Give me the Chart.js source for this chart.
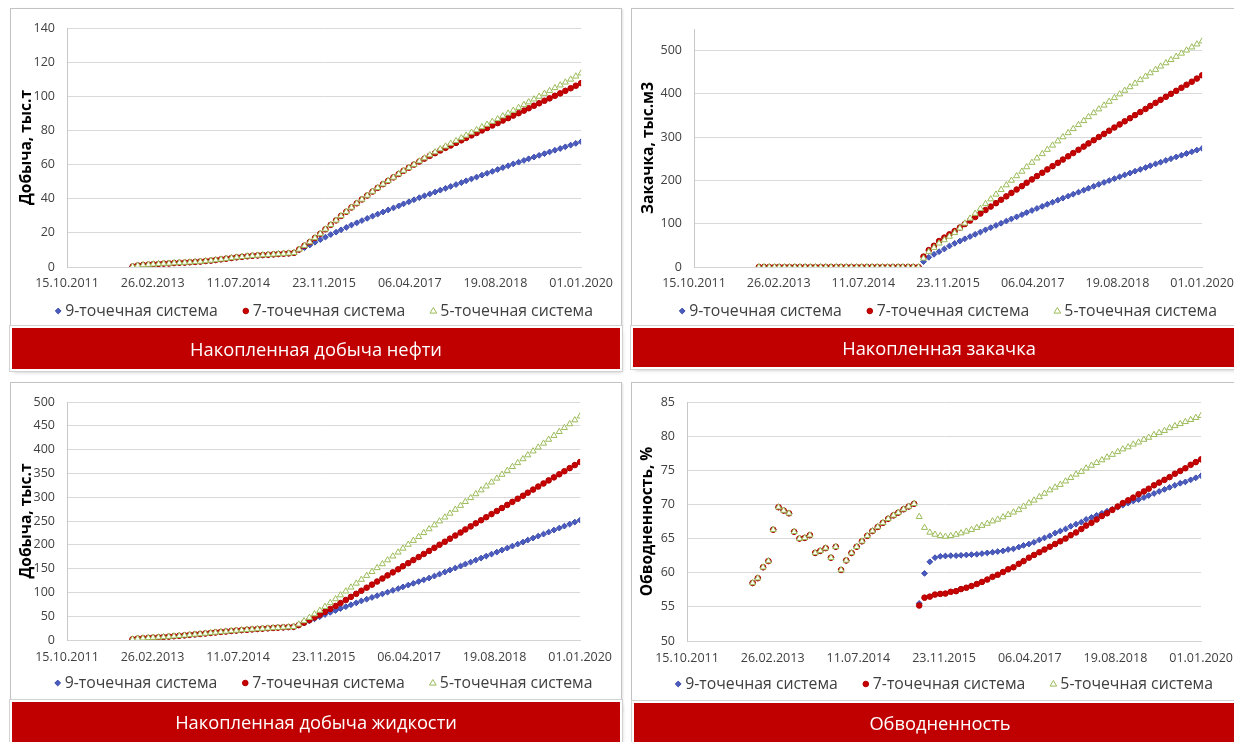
<!DOCTYPE html>
<html lang="ru">
<head>
<meta charset="utf-8">
<title>Сравнение систем разработки</title>
<script src="https://cdn.jsdelivr.net/npm/chart.js@4.4.1/dist/chart.umd.min.js"></script>
<style>
  html, body { margin: 0; padding: 0; background: #fff; width: 1234px; height: 742px; overflow: hidden; font-family: "Open Sans", sans-serif; }
  .panel { position: absolute; box-sizing: border-box; border: 1px solid #c3c3c3; background: #fff; box-shadow: 1px 1px 2px rgba(0,0,0,0.12); }
  canvas { position: absolute; }
  .banner { position: absolute; box-sizing: border-box; background: #C00000; color: #fff; font-size: 18.3px;
            display: flex; align-items: center; justify-content: center; z-index: 5;
            box-shadow: 0 0 0 2px #fff, 0 0 0 3px #d2d2d2, 2px 3px 4px rgba(0,0,0,0.25); }
</style>
</head>
<body>
<div class="panel" style="left:10px;top:8px;width:612px;height:320px"></div>
<div class="panel" style="left:631px;top:8px;width:620px;height:320px"></div>
<div class="panel" style="left:10px;top:382px;width:612px;height:330px"></div>
<div class="panel" style="left:631px;top:382px;width:620px;height:330px"></div>

<canvas id="cOil"   width="612" height="326" style="left:10px;top:8px"></canvas>
<canvas id="cInj"   width="612" height="326" style="left:631px;top:8px"></canvas>
<canvas id="cLiq"   width="612" height="320" style="left:10px;top:382px"></canvas>
<canvas id="cWater" width="612" height="320" style="left:631px;top:382px"></canvas>

<div class="banner" style="left:12px;top:328px;width:608px;height:41px">Накопленная добыча нефти</div>
<div class="banner" style="left:633px;top:328px;width:612px;height:39px">Накопленная закачка</div>
<div class="banner" style="left:12px;top:702px;width:608px;height:45px;padding-bottom:6px">Накопленная добыча жидкости</div>
<div class="banner" style="left:634px;top:703px;width:612px;height:45px;padding-bottom:6px">Обводненность</div>

<script>
// Monthly report dates: history Nov 2012 – Jun 2015, forecast Jul 2015 – Jan 2020
const months = [
  '2012-11','2012-12',
  '2013-01','2013-02','2013-03','2013-04','2013-05','2013-06','2013-07','2013-08','2013-09','2013-10','2013-11','2013-12',
  '2014-01','2014-02','2014-03','2014-04','2014-05','2014-06','2014-07','2014-08','2014-09','2014-10','2014-11','2014-12',
  '2015-01','2015-02','2015-03','2015-04','2015-05','2015-06','2015-07','2015-08','2015-09','2015-10','2015-11','2015-12',
  '2016-01','2016-02','2016-03','2016-04','2016-05','2016-06','2016-07','2016-08','2016-09','2016-10','2016-11','2016-12',
  '2017-01','2017-02','2017-03','2017-04','2017-05','2017-06','2017-07','2017-08','2017-09','2017-10','2017-11','2017-12',
  '2018-01','2018-02','2018-03','2018-04','2018-05','2018-06','2018-07','2018-08','2018-09','2018-10','2018-11','2018-12',
  '2019-01','2019-02','2019-03','2019-04','2019-05','2019-06','2019-07','2019-08','2019-09','2019-10','2019-11','2019-12',
  '2020-01'
];

const seriesNames = ['9-точечная система', '7-точечная система', '5-точечная система'];

// Axis: day offsets from 15.10.2011, ticks every 500 days
const axisStart = '2011-10-15';
const axisSpanDays = 3000;
const axisStepDays = 500;

// ---- Накопленная добыча нефти, тыс.т ----
const oilHistory = [0.3,0.9,1.2,1.4,1.6,1.8,2.0,2.1,2.3,2.5,2.6,2.8,3.0,3.2,3.5,3.8,4.1,4.5,4.9,5.3,5.7,6.0,6.3,6.6,6.8,7.0,7.2,7.4,7.6,7.8,8.0,8.3];
const oil9 = [10.0,11.3,12.9,14.5,16.0,17.5,19.0,20.4,21.8,23.2,24.6,25.9,27.2,28.5,29.8,31.0,32.2,33.4,34.6,35.8,37.0,38.2,39.4,40.6,41.7,42.8,43.9,45.0,46.1,47.2,48.3,49.4,50.5,51.6,52.7,53.8,54.9,56.0,57.1,58.2,59.3,60.4,61.4,62.4,63.4,64.4,65.4,66.4,67.4,68.4,69.4,70.4,71.4,72.4,73.4];
const oil7 = [10.3,12.5,14.6,17.0,19.5,22.1,24.7,27.3,29.9,32.4,34.9,37.3,39.6,41.9,44.2,46.4,48.5,50.5,52.5,54.5,56.4,58.2,60.0,61.8,63.5,65.1,66.7,68.3,69.8,71.2,72.7,74.2,75.6,77.1,78.5,80.0,81.4,82.9,84.3,85.8,87.2,88.7,90.1,91.6,93.0,94.5,95.9,97.4,98.8,100.3,101.7,103.2,104.7,106.2,107.7];
const oil5 = [10.3,12.5,14.6,17.0,19.5,22.1,24.7,27.3,29.9,32.4,34.9,37.3,39.6,41.9,44.2,46.4,48.5,50.5,52.5,54.5,56.4,58.2,60.0,62.0,63.8,65.6,67.3,69.1,70.7,72.3,73.9,75.6,77.1,78.8,80.3,82.0,83.5,85.2,86.7,88.4,90.0,91.7,93.3,95.0,96.6,98.3,99.9,101.6,103.2,104.9,106.5,108.2,109.9,111.7,113.5];
const oilTicks = { min: 0, max: 140, step: 20 };

// ---- Накопленная закачка, тыс.м3 ----
const injHistory = [0,0,0,0,0,0,0,0,0,0,0,0,0,0,0,0,0,0,0,0,0,0,0,0,0,0,0,0,0,0,0,0];
const inj9 = [12.3,22.4,29.3,35.4,41.6,48.5,54.7,60.0,65.2,70.4,75.6,80.8,85.9,91.0,96.1,101.1,106.1,111.1,116.0,120.9,125.8,130.6,135.4,140.2,145.0,149.7,154.4,159.1,163.7,168.3,172.9,177.5,182.0,186.5,191.0,195.4,199.8,204.2,208.5,212.8,217.1,221.4,225.6,229.8,234.0,238.1,242.2,246.3,250.3,254.3,258.3,262.3,266.2,270.1,274.0];
const inj7 = [24,39,49,60,68,75.5,83,91.2,99.3,107.4,115.5,123.6,131.6,139.6,147.5,155.4,163.3,171.2,179.1,186.9,194.7,202.4,210.1,217.8,225.5,233.1,240.7,248.3,255.8,263.3,270.8,278.2,285.6,293.0,300.4,307.7,315.0,322.3,329.5,336.7,343.9,351.0,358.1,365.2,372.3,379.3,386.3,393.3,400.2,407.1,414.2,421.2,428.2,435.4,443.0];
const inj5 = [20,35,44.7,54.7,62.4,70.5,79.0,89.4,100.9,112.3,123.6,134.8,145.9,156.9,167.8,178.6,189.3,199.9,210.4,220.8,231.1,241.3,251.4,261.4,271.3,281.1,290.8,300.4,309.9,319.3,328.6,337.8,346.9,355.9,364.8,373.6,382.3,390.9,399.4,407.8,416.1,424.3,432.4,440.4,448.3,456.1,463.8,471.4,478.9,486.3,493.6,500.8,507.9,514.9,521.8];
const injTicks = { min: 0, max: 550, step: 100 };

// ---- Накопленная добыча жидкости, тыс.т ----
const liqHistory = [1.5,3.0,3.8,4.5,5.1,5.7,6.3,7.2,8.0,8.8,9.8,10.8,11.8,12.6,13.8,14.9,16.0,17.0,18.0,19.0,20.0,20.8,21.6,22.4,23.2,23.9,24.6,25.3,26.0,26.6,27.2,27.8];
const liq9 = [31.0,35.5,40.0,44.5,49.0,53.5,58.0,62.0,66.0,70.0,74.0,78.0,82.0,85.7,89.4,93.1,96.8,100.5,104.2,107.9,111.6,115.3,119.0,122.7,126.4,130.1,134.3,138.5,142.7,146.9,151.1,155.3,159.5,163.7,167.9,172.1,176.3,180.5,184.7,188.9,193.1,197.3,201.5,205.7,209.9,214.1,218.3,222.5,226.7,230.9,235.1,239.3,243.5,247.7,251.9];
const liq7 = [31.5,36.5,41.8,47.4,53.2,59.1,65.2,71.4,77.7,84.1,90.6,97.0,103.5,109.9,116.3,122.8,129.2,135.7,142.1,148.5,155.0,161.4,167.9,174.3,180.7,187.2,193.6,200.1,206.5,212.9,219.4,225.8,232.3,238.7,245.1,251.6,258.0,264.5,270.9,277.3,283.8,290.2,296.7,303.1,309.5,316.0,322.4,328.9,335.3,341.7,348.2,354.6,361.1,367.5,373.9];
const liq5 = [33,40,47,54.5,62,70,78,86.2,94.3,102.5,110.7,118.9,127.0,135.2,143.4,151.5,159.7,167.9,176.0,184.2,192.4,200.6,208.7,216.9,225.1,233.2,241.4,249.6,257.8,265.9,274.1,282.3,290.4,298.6,306.8,314.9,323.1,331.3,339.5,347.6,355.8,364.0,372.1,380.3,388.5,396.7,404.8,413.0,421.2,429.3,437.5,445.7,453.8,462.0,470.2];
const liqTicks = { min: 0, max: 500, step: 50 };

// ---- Обводненность, % ----
const waterHistory = [58.5,59.2,60.8,61.7,66.3,69.6,69.1,68.7,66.0,65.0,65.1,65.5,62.9,63.2,63.6,62.2,63.8,60.4,61.8,62.9,63.8,64.6,65.4,66.1,66.7,67.3,67.9,68.4,68.8,69.3,69.7,70.1];
const water9 = [55.5,59.9,61.6,62.2,62.4,62.45,62.5,62.5,62.55,62.6,62.65,62.7,62.8,62.9,63.0,63.1,63.2,63.4,63.5,63.75,64.0,64.2,64.45,64.8,65.1,65.4,65.8,66.1,66.4,66.8,67.1,67.4,67.8,68.1,68.4,68.7,69.0,69.3,69.6,69.9,70.2,70.5,70.7,71.0,71.3,71.6,71.9,72.2,72.5,72.8,73.1,73.3,73.6,73.9,74.2];
const water7 = [55.2,56.35,56.5,56.8,56.9,56.95,57.2,57.3,57.6,57.8,58.05,58.35,58.65,59.0,59.4,59.7,60.1,60.5,60.8,61.3,61.7,62.2,62.6,63.0,63.4,63.8,64.2,64.6,65.0,65.5,65.9,66.4,66.9,67.3,67.8,68.3,68.7,69.2,69.7,70.2,70.6,71.0,71.5,71.9,72.3,72.8,73.2,73.6,74.0,74.5,74.9,75.3,75.8,76.2,76.6];
const water5 = [68.2,66.6,65.9,65.6,65.4,65.3,65.4,65.6,65.8,66.05,66.3,66.6,66.9,67.2,67.55,67.8,68.15,68.5,68.85,69.2,69.7,70.2,70.6,71.1,71.6,72.1,72.5,72.9,73.4,73.9,74.4,74.8,75.3,75.7,76.1,76.5,76.9,77.3,77.7,78.1,78.4,78.8,79.1,79.5,79.8,80.2,80.5,80.8,81.2,81.5,81.8,82.1,82.4,82.7,83.0];
const waterTicks = { min: 50, max: 85, step: 5 };

// ---------------------------------------------------------------
const DAY_MS = 86400000;
const baseMs = Date.parse(axisStart + 'T00:00:00Z');
const xDays = months.map(m => (Date.parse(m + '-01T00:00:00Z') - baseMs) / DAY_MS);
const pad2 = n => (n < 10 ? '0' : '') + n;
function dateLabel(v) {
  const d = new Date(baseMs + v * DAY_MS);
  return pad2(d.getUTCDate()) + '.' + pad2(d.getUTCMonth() + 1) + '.' + d.getUTCFullYear();
}

const FONT = '"Open Sans", sans-serif';
const TEXT = '#404040';
Chart.defaults.font.family = FONT;
Chart.defaults.color = TEXT;

const markerStyles = [
  { pointStyle: 'rectRot',  radius: 2.9, backgroundColor: '#4A5BC0', borderColor: '#3C4BAA', order: 2 },
  { pointStyle: 'circle',   radius: 2.8, backgroundColor: '#C80000', borderColor: '#B00000', order: 1 },
  { pointStyle: 'triangle', radius: 3.5, backgroundColor: '#FFFFFF', borderColor: '#9BBB59', order: 0 }
];

function points(history, forecast) {
  return history.concat(forecast).map((v, i) => ({ x: xDays[i], y: v }));
}

function drawMarker(ctx, style, x, y) {
  const r = style.radius;
  ctx.beginPath();
  if (style.pointStyle === 'circle') {
    ctx.arc(x, y, r, 0, Math.PI * 2);
  } else if (style.pointStyle === 'rectRot') {
    ctx.moveTo(x, y - r); ctx.lineTo(x + r, y); ctx.lineTo(x, y + r); ctx.lineTo(x - r, y);
  } else {
    ctx.moveTo(x, y - r); ctx.lineTo(x + r * 0.95, y + r * 0.6); ctx.lineTo(x - r * 0.95, y + r * 0.6);
  }
  ctx.closePath();
  ctx.fillStyle = style.backgroundColor; ctx.fill();
  ctx.lineWidth = 1; ctx.strokeStyle = style.borderColor; ctx.stroke();
}

// Legend row under the x axis, centred on the plot area
const bottomLegend = {
  id: 'bottomLegend',
  afterDraw(chart, args, opts) {
    const { ctx, chartArea } = chart;
    ctx.save();
    ctx.font = '15.8px ' + FONT;
    ctx.textBaseline = 'middle';
    const widths = seriesNames.map(t => ctx.measureText(t).width);
    const mark = 6, gapText = 4, gapItem = 25;
    const total = widths.reduce((a, w) => a + mark + gapText + w, 0) + gapItem * (widths.length - 1);
    let x = (chartArea.left + chartArea.right) / 2 - total / 2;
    const y = chartArea.bottom + opts.offset;
    seriesNames.forEach((name, i) => {
      drawMarker(ctx, markerStyles[i], x + mark / 2, y);
      ctx.fillStyle = TEXT;
      ctx.fillText(name, x + mark + gapText, y + 0.5);
      x += mark + gapText + widths[i] + gapItem;
    });
    ctx.restore();
  }
};

function buildChart(id, title, history, s9, s7, s5, ticks, lay) {
  const data = [s9, s7, s5].map((s, i) => ({
    label: seriesNames[i],
    data: points(history, s),
    showLine: false,
    pointRadius: markerStyles[i].radius,
    pointStyle: markerStyles[i].pointStyle,
    pointBorderWidth: 1,
    pointBackgroundColor: markerStyles[i].backgroundColor,
    pointBorderColor: markerStyles[i].borderColor,
    backgroundColor: markerStyles[i].backgroundColor,
    borderColor: markerStyles[i].borderColor,
    order: markerStyles[i].order
  }));
  return new Chart(document.getElementById(id), {
    type: 'scatter',
    data: { datasets: data },
    plugins: [bottomLegend],
    options: {
      responsive: false,
      animation: false,
      events: [],
      layout: { padding: { left: 0, top: lay.top, right: lay.right, bottom: lay.bottom } },
      plugins: {
        legend: { display: false },
        tooltip: { enabled: false },
        bottomLegend: { offset: lay.legend }
      },
      scales: {
        x: {
          type: 'linear',
          min: 0, max: axisSpanDays,
          afterFit: s => { s.height = 30; },
          grid: { display: false, drawTicks: false },
          border: { display: true, color: '#d4d4d4', width: 1 },
          ticks: {
            stepSize: axisStepDays, maxRotation: 0, autoSkip: false, padding: lay.xPad,
            font: { size: 12.5 }, color: TEXT,
            callback: v => dateLabel(v)
          }
        },
        y: {
          min: ticks.min, max: ticks.max,
          afterFit: s => { s.width = lay.yWidth; },
          grid: { color: '#d9d9d9', lineWidth: 1, drawTicks: false },
          border: { display: true, color: '#c8c8c8', width: 1 },
          ticks: { stepSize: ticks.step, includeBounds: false, padding: 12, font: { size: 12.5 }, color: TEXT },
          title: {
            display: true, text: title, color: '#000',
            font: { size: 15.5, weight: 'bold' },
            padding: { top: lay.titlePad, bottom: 0 }
          }
        }
      }
    }
  });
}

buildChart('cOil', 'Добыча, тыс.т', oilHistory, oil9, oil7, oil5, oilTicks,
  { top: 20, right: 37, bottom: 37, yWidth: 57, xPad: 9, legend: 44, titlePad: 7 });
buildChart('cInj', 'Закачка, тыс.м3', injHistory, inj9, inj7, inj5, injTicks,
  { top: 21, right: 39, bottom: 37, yWidth: 63, xPad: 9, legend: 44, titlePad: 8 });
buildChart('cLiq', 'Добыча, тыс.т', liqHistory, liq9, liq7, liq5, liqTicks,
  { top: 20, right: 37, bottom: 32, yWidth: 57, xPad: 10, legend: 43, titlePad: 7 });
buildChart('cWater', 'Обводненность, %', waterHistory, water9, water7, water5, waterTicks,
  { top: 20, right: 39, bottom: 31, yWidth: 56, xPad: 10, legend: 43, titlePad: 7 });
</script>
</body>
</html>
